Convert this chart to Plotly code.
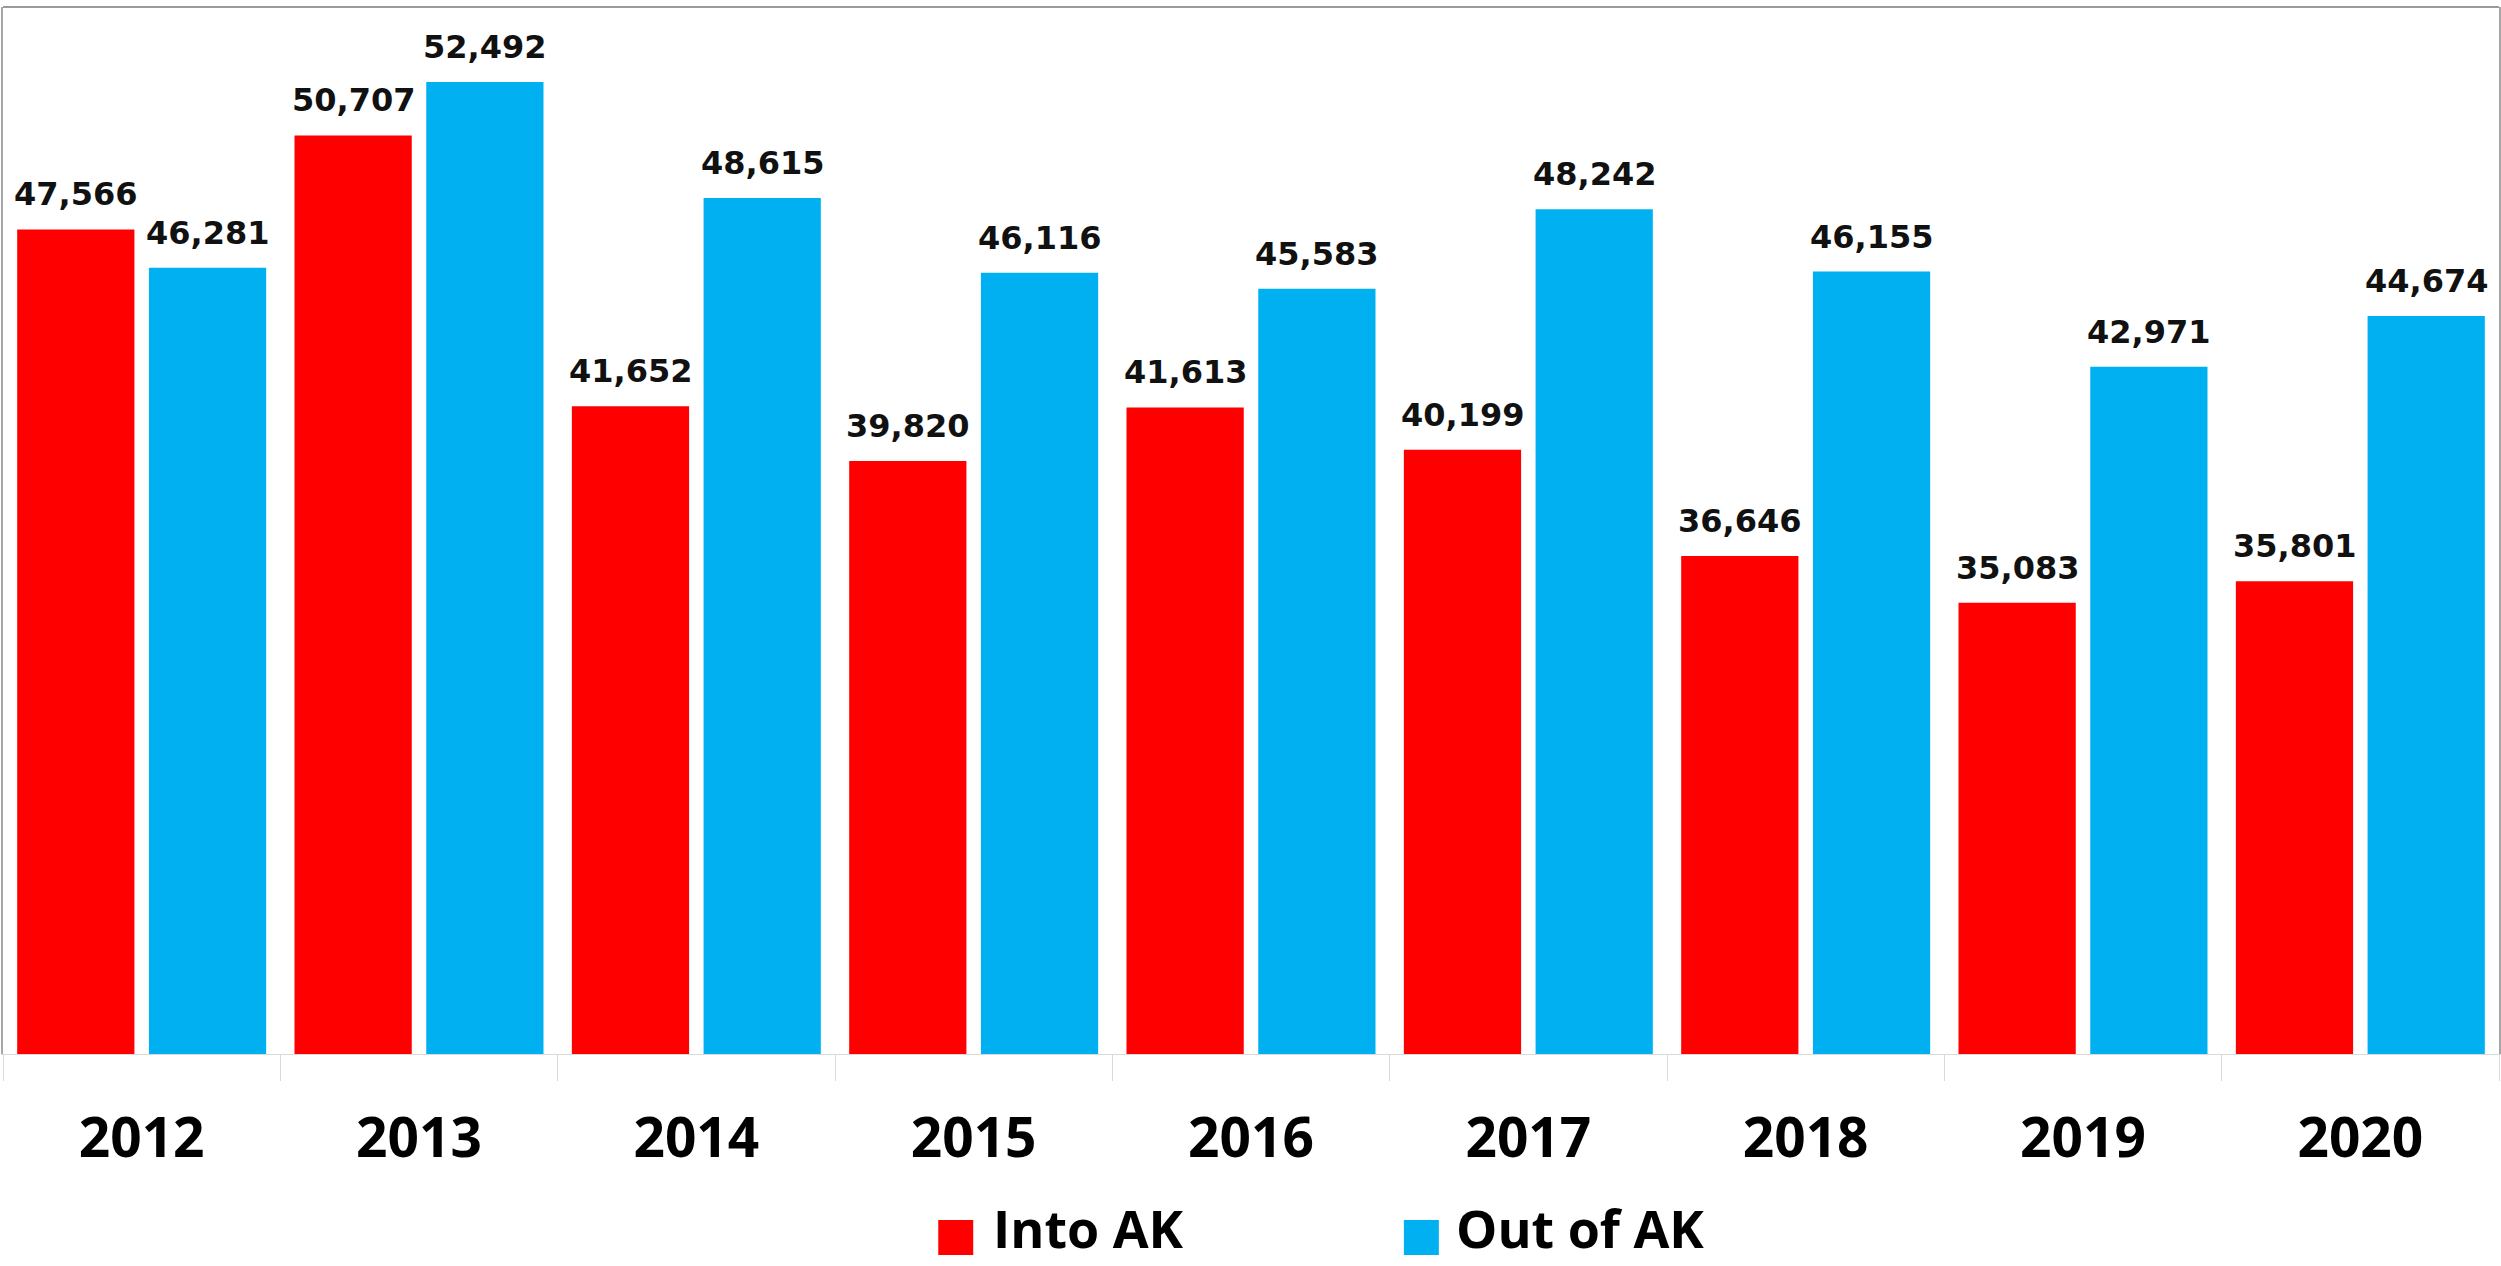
import plotly.graph_objects as go

# ---- data ----
years = ["2012", "2013", "2014", "2015", "2016", "2017", "2018", "2019", "2020"]
into_ak = [47566, 50707, 41652, 39820, 41613, 40199, 36646, 35083, 35801]
out_of_ak = [46281, 52492, 48615, 46116, 45583, 48242, 46155, 42971, 44674]
series_names = ["Into AK", "Out of AK"]
series_colors = ["#FF0000", "#00B0F0"]
y_min, y_max = 20000, 55000

# ---- layout constants ----
W, H = 2501, 1266
ML, MR, MT, MB = 3, 0, 7, 212
PW, PH = W - ML - MR, H - MT - MB
BARGAP = 0.05
BARGROUPGAP = 0.11

label_font = dict(family="DejaVu Sans", size=32, color="#111111", weight="bold")
tick_font = dict(family="Open Sans", size=55, color="#000000", weight="bold")
legend_font = dict(family="Open Sans", size=52, color="#000000", weight="bold")

fig = go.Figure()
all_series = [into_ak, out_of_ak]
for name, vals, col in zip(series_names, all_series, series_colors):
    fig.add_trace(go.Bar(
        x=years, y=vals, name=name,
        marker=dict(color=col, line=dict(width=0)),
        showlegend=False,
    ))

# data labels above the bars, positioned in data coordinates
pitch = PW / len(years)
slot = pitch * (1 - BARGAP) / len(all_series)
for i, vals in enumerate(all_series):
    xshift = (i - (len(all_series) - 1) / 2) * slot
    for idx, v in enumerate(vals):
        fig.add_annotation(
            x=idx, y=v, xref="x", yref="y", text=f"{v:,}",
            showarrow=False, xanchor="center", yanchor="bottom",
            xshift=xshift, yshift=14, font=label_font,
        )

# custom legend (large squares + text)
def px_to_paper_x(px):
    return (px - ML) / PW

def px_to_paper_y(py):
    return (H - MB - py) / PH

legend_items = [(939, 992), (1405, 1455)]
sq = 35
sq_top = 1220
for (sx, tx), name, col in zip(legend_items, series_names, series_colors):
    fig.add_shape(
        type="rect", xref="paper", yref="paper",
        x0=px_to_paper_x(sx), x1=px_to_paper_x(sx + sq),
        y0=px_to_paper_y(sq_top + sq), y1=px_to_paper_y(sq_top),
        fillcolor=col, line=dict(width=0),
    )
    fig.add_annotation(
        x=px_to_paper_x(tx), y=px_to_paper_y(H - 1),
        xref="paper", yref="paper", text=name, showarrow=False,
        xanchor="left", yanchor="bottom", font=legend_font,
    )

# top frame line
fig.add_shape(type="line", xref="paper", yref="paper", x0=0, x1=1, y0=1, y1=1,
              line=dict(color="#9a9a9a", width=2))

fig.update_layout(
    width=W, height=H,
    margin=dict(l=ML, r=MR, t=MT, b=MB, pad=0),
    paper_bgcolor="white", plot_bgcolor="white",
    barmode="group", bargap=BARGAP, bargroupgap=BARGROUPGAP,
    showlegend=False,
)
fig.update_xaxes(
    type="category", range=[-0.5, len(years) - 0.5],
    showline=True, linecolor="#d9d9d9", linewidth=1,
    ticks="outside", tickson="boundaries", ticklen=26,
    tickcolor="#d9d9d9", tickwidth=1,
    showgrid=False, tickfont=tick_font, ticklabelstandoff=36,
)
fig.update_yaxes(
    range=[y_min, y_max], showticklabels=False, showgrid=False,
    zeroline=False, ticks="",
    showline=True, linecolor="#a6a6a6", linewidth=2, mirror=True,
)

fig.write_html("out.html")
